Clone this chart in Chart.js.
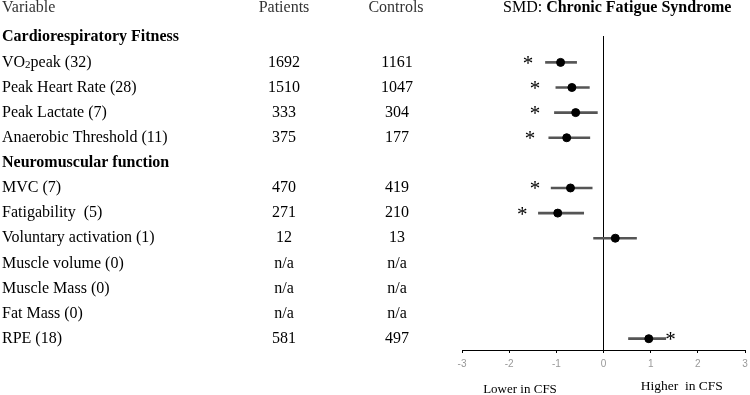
<!DOCTYPE html>
<html lang="en">
<head>
<meta charset="UTF-8">
<title>SMD: Chronic Fatigue Syndrome</title>
<script src="https://cdn.jsdelivr.net/npm/chart.js"></script>
<style>
    body { margin: 0; background: white; }
</style>
</head>
<body>
<canvas id="forestChart" width="750" height="395"></canvas>
<script>
// Table rows (index 0 = first row under the header)
const rowLabels = [
    'Cardiorespiratory Fitness', 'VO2peak (32)', 'Peak Heart Rate (28)', 'Peak Lactate (7)',
    'Anaerobic Threshold (11)', 'Neuromuscular function', 'MVC (7)', 'Fatigability  (5)',
    'Voluntary activation (1)', 'Muscle volume (0)', 'Muscle Mass (0)', 'Fat Mass (0)', 'RPE (18)'
];
const sectionRows = [0, 5];
const patients = ['', '1692', '1510', '333', '375', '', '470', '271', '12', 'n/a', 'n/a', 'n/a', '581'];
const controls = ['', '1161', '1047', '304', '177', '', '419', '210', '13', 'n/a', 'n/a', 'n/a', '497'];

// Standardised mean difference and 95% CI per row (null = no estimate)
const smd    = [null, -0.91, -0.67, -0.59, -0.78, null, -0.70, -0.97,  0.25, null, null, null, 0.96];
const ciLow  = [null, -1.23, -1.01, -1.04, -1.16, null, -1.11, -1.38, -0.21, null, null, null, 0.53];
const ciHigh = [null, -0.57, -0.30, -0.13, -0.29, null, -0.24, -0.42,  0.70, null, null, null, 1.32];
// where the significance asterisk sits (x value)
const starX  = [null, -1.60, -1.45, -1.45, -1.56, null, -1.45, -1.72,  null, null, null, null, 1.42];

const xTicks = [-3, -2, -1, 0, 1, 2, 3];

const ciData = [];
const pointData = [];
smd.forEach((v, i) => {
    if (v === null) return;
    ciData.push({ x: [ciLow[i], ciHigh[i]], y: i });
    pointData.push({ x: v, y: i });
});

const SERIF = '"Liberation Serif", "Times New Roman", serif';

// draws the table columns, header and asterisks next to the plot
const tablePlugin = {
    id: 'tableText',
    afterDraw(chart) {
        const { ctx, scales: { x, y } } = chart;
        ctx.save();
        ctx.textBaseline = 'middle';

        // header row
        ctx.fillStyle = '#333';
        ctx.font = '16px ' + SERIF;
        ctx.textAlign = 'left';
        ctx.fillText('Variable', 2, 8);
        ctx.textAlign = 'center';
        ctx.fillText('Patients', 284, 8);
        ctx.fillText('Controls', 396, 8);
        ctx.textAlign = 'left';
        ctx.fillStyle = '#000';
        ctx.fillText('SMD: ', 503, 8);
        const w = ctx.measureText('SMD: ').width;
        ctx.font = 'bold 16px ' + SERIF;
        ctx.fillText('Chronic Fatigue Syndrome', 503 + w, 8);

        rowLabels.forEach((label, i) => {
            const py = y.getPixelForValue(i);
            ctx.textAlign = 'left';
            if (sectionRows.includes(i)) {
                ctx.font = 'bold 16px ' + SERIF;
                ctx.fillText(label, 2, py);
            } else if (label.startsWith('VO2')) {
                ctx.font = '16px ' + SERIF;
                ctx.fillText('VO', 2, py);
                let cx = 2 + ctx.measureText('VO').width;
                ctx.font = '11px ' + SERIF;
                ctx.fillText('2', cx, py + 3);
                cx += ctx.measureText('2').width;
                ctx.font = '16px ' + SERIF;
                ctx.fillText(label.slice(3), cx, py);
            } else {
                ctx.font = '16px ' + SERIF;
                ctx.fillText(label, 2, py);
            }
            ctx.font = '16px ' + SERIF;
            ctx.textAlign = 'center';
            if (patients[i]) ctx.fillText(patients[i], 284, py);
            if (controls[i]) ctx.fillText(controls[i], 397, py);

            if (starX[i] !== null) {
                ctx.font = '21px ' + SERIF;
                ctx.fillText('*', x.getPixelForValue(starX[i]), py + 2);
            }
        });

        // direction labels under the axis
        ctx.textAlign = 'center';
        ctx.font = '13px ' + SERIF;
        ctx.fillText('Lower in CFS', x.getPixelForValue(-1.77), 390);
        ctx.font = '13.5px ' + SERIF;
        ctx.fillText('Higher  in CFS', x.getPixelForValue(1.66), 386);
        ctx.restore();
    }
};

new Chart(document.getElementById('forestChart'), {
    type: 'scatter',
    data: {
        datasets: [
            {
                type: 'scatter',
                data: pointData,
                backgroundColor: '#000',
                borderColor: '#000',
                pointRadius: 4,
                pointHoverRadius: 4
            },
            {
                type: 'bar',
                indexAxis: 'y',
                data: ciData,
                backgroundColor: '#555',
                borderWidth: 0,
                barThickness: 2
            }
        ]
    },
    options: {
        responsive: false,
        animation: false,
        events: [],
        layout: { padding: { left: 462, right: 0, top: 36, bottom: 20 } },
        plugins: { legend: { display: false }, tooltip: { enabled: false } },
        scales: {
            x: {
                type: 'linear',
                min: -3,
                max: 3,
                afterBuildTicks: (axis) => { axis.ticks = xTicks.map(v => ({ value: v })); },
                afterFit: (axis) => { axis.paddingLeft = 0; axis.paddingRight = 0; },
                grid: {
                    color: (c) => (c.tick && c.tick.value === 0 ? '#000' : 'rgba(0,0,0,0)'),
                    tickColor: '#000',
                    tickLength: 3,
                    lineWidth: 1
                },
                border: { display: true, color: '#000', width: 1 },
                ticks: { color: '#999', font: { size: 10, family: '"Liberation Sans", Arial, sans-serif' }, padding: 5 }
            },
            y: {
                type: 'linear',
                display: false,
                reverse: true,
                offset: false,
                min: -0.05,
                max: 12.45
            }
        }
    },
    plugins: [tablePlugin]
});
</script>
</body>
</html>
